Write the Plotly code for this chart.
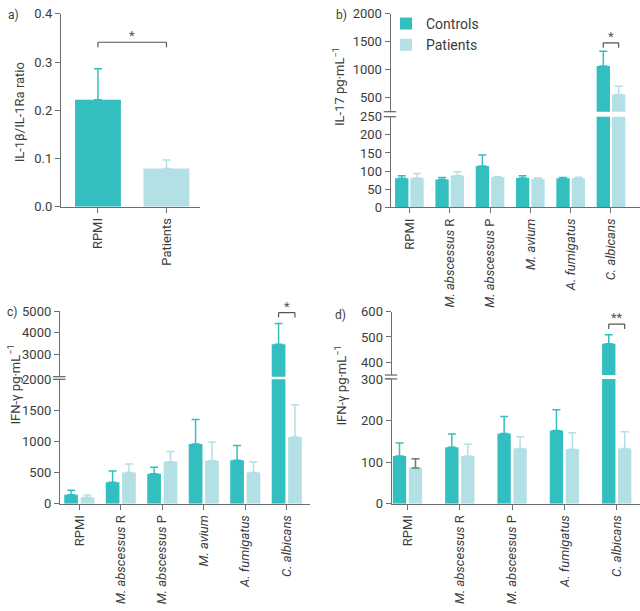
import plotly.graph_objects as go

# ---------------- data ----------------
a_labels = ["RPMI", "Patients"]
a_values = [0.222, 0.079]
a_err = [0.064, 0.018]

cats6 = ["RPMI", "<i>M. abscessus</i> R", "<i>M. abscessus</i> P", "<i>M. avium</i>",
         "<i>A. fumigatus</i>", "<i>C. albicans</i>"]
cats5 = ["RPMI", "<i>M. abscessus</i> R", "<i>M. abscessus</i> P",
         "<i>A. fumigatus</i>", "<i>C. albicans</i>"]

b_controls = [80, 77, 114, 81, 80, 1066]
b_controls_err = [7, 5, 30, 6, 2, 262]
b_patients = [81, 88, 83, 78, 80, 558]
b_patients_err = [12, 10, 1, 3, 3, 145]

c_controls = [145, 348, 483, 961, 701, 3486]
c_controls_err = [73, 177, 104, 395, 234, 950]
c_patients = [104, 504, 675, 691, 504, 1075]
c_patients_err = [36, 135, 167, 301, 166, 515]

d_controls = [115, 136, 169, 176, 473]
d_controls_err = [31, 32, 41, 50, 36]
d_patients = [86, 115, 133, 131, 133]
d_patients_err = [22, 28, 28, 40, 40]

# ---------------- style ----------------
C_CTRL = "#33bec0"
C_PAT = "#b3e0e4"
AX = "#6e6e6e"
TXT = "#3c3c3c"
FONT = "Roboto"
W, H = 640, 611


def px(x):
    return min(max(x / W, 0), 1)


def py(y):
    return min(max(1 - y / H, 0), 1)


fig = go.Figure()


def err(arr, color):
    return dict(type="data", array=arr, arrayminus=[0] * len(arr), symmetric=False,
                color=color, thickness=1.5, width=4)


# panel a
for i, col in enumerate([C_CTRL, C_PAT]):
    fig.add_trace(go.Bar(x=[a_labels[i]], y=[a_values[i]], marker=dict(color=col, line_width=0),
                         width=0.67, offset=-0.335, error_y=err([a_err[i]], col),
                         xaxis="x", yaxis="y", showlegend=False))


def add_broken(xa, ylo, yup, cats, ctrl, ctrl_err, pat, pat_err, w, g, legend):
    for ya in (ylo, yup):
        fig.add_trace(go.Bar(x=cats, y=ctrl, name="Controls", marker=dict(color=C_CTRL, line_width=0),
                             width=w, offset=-g / 2 - w, error_y=err(ctrl_err, C_CTRL),
                             xaxis=xa, yaxis=ya, showlegend=legend and ya == ylo))
        fig.add_trace(go.Bar(x=cats, y=pat, name="Patients", marker=dict(color=C_PAT, line_width=0),
                             width=w, offset=g / 2, error_y=err(pat_err, C_PAT),
                             xaxis=xa, yaxis=ya, showlegend=legend and ya == ylo))


add_broken("x2", "y2", "y3", cats6, b_controls, b_controls_err, b_patients, b_patients_err, 0.33, 0.05, True)
add_broken("x3", "y4", "y5", cats6, c_controls, c_controls_err, c_patients, c_patients_err, 0.33, 0.065, False)
add_broken("x4", "y6", "y7", cats5, d_controls, d_controls_err, d_patients, d_patients_err, 0.255, 0.05, False)

# grey error bar on RPMI patients (panel d)
fig.add_trace(go.Bar(x=cats5[:1], y=d_patients[:1], marker=dict(color="rgba(0,0,0,0)", line_width=0),
                     width=0.255, offset=0.025, error_y=err(d_patients_err[:1], "#7a7a7a"),
                     xaxis="x4", yaxis="y6", showlegend=False, hoverinfo="skip"))

base = dict(showline=True, linecolor=AX, linewidth=1.3, ticks="outside", ticklen=5, tickwidth=1.3,
            tickcolor=AX, tickfont=dict(size=13, color=TXT, family=FONT), showgrid=False, zeroline=False)
xbase = dict(base, type="category", tickangle=-90)

layout = dict(
    width=W, height=H, margin=dict(l=0, r=0, t=0, b=0), autosize=False,
    paper_bgcolor="white", plot_bgcolor="white",
    font=dict(family=FONT, color=TXT),
    showlegend=True,
    legend=dict(x=px(386), y=py(1), xanchor="left", yanchor="top", font=dict(size=14, color=TXT),
                bgcolor="rgba(0,0,0,0)", tracegroupgap=0),
    # panel a
    xaxis=dict(xbase, domain=[px(61), px(200)], range=[-0.54, 1.49], anchor="y"),
    yaxis=dict(base, domain=[py(204.7), py(7)], range=[0, 0.4], tickvals=[0, 0.1, 0.2, 0.3, 0.4],
               tickformat=".1f", anchor="x"),
    # panel b
    xaxis2=dict(xbase, domain=[px(390.7), 1], range=[-0.464, 5.72], anchor="y2"),
    yaxis2=dict(base, domain=[py(205.3), py(112.5)], range=[0, 250], tickvals=[0, 50, 100, 150, 200, 250],
                anchor="x2"),
    yaxis3=dict(base, domain=[py(107.3), py(6.7)], range=[250, 2000], tickvals=[500, 1000, 1500, 2000],
                anchor="x2"),
    # panel c
    xaxis3=dict(xbase, domain=[px(60), px(310)], range=[-0.465, 5.56], anchor="y4"),
    yaxis4=dict(base, domain=[py(509.3), py(381.7)], range=[0, 2000], tickvals=[0, 500, 1000, 1500, 2000],
                anchor="x3"),
    yaxis5=dict(base, domain=[py(379), py(311.7)], range=[2000, 5000], tickvals=[3000, 4000, 5000],
                anchor="x3"),
    # panel d
    xaxis4=dict(xbase, domain=[px(391.7), 1], range=[-0.302, 4.445], anchor="y6"),
    yaxis6=dict(base, domain=[py(509.3), py(381.3)], range=[0, 300], tickvals=[0, 100, 200, 300],
                anchor="x4"),
    yaxis7=dict(base, domain=[py(377.3), py(312.3)], range=[350, 600], tickvals=[400, 500, 600],
                anchor="x4"),
)
fig.update_layout(**layout)

shapes = []
annotations = []

# axis-break marks
for xa, ylo, yup in (("x2", "y2", "y3"), ("x3", "y4", "y5"), ("x4", "y6", "y7")):
    for yref, yv in ((yup + " domain", 0), (ylo + " domain", 1)):
        shapes.append(dict(type="line", xref=xa + " domain", yref=yref, x0=-0.028, x1=0.022,
                           y0=yv, y1=yv, line=dict(color=AX, width=1.3)))


def bracket(xa, ya, x0, x1, yb, text):
    shapes.append(dict(type="line", xref=xa, yref=ya, x0=x0, x1=x1, y0=yb, y1=yb,
                       line=dict(color="#555555", width=1.2)))
    for xx in (x0, x1):
        shapes.append(dict(type="line", xref=xa, yref=ya, x0=xx, x1=xx, ysizemode="pixel",
                           yanchor=yb, y0=0, y1=-5, line=dict(color="#555555", width=1.2)))
    annotations.append(dict(x=(x0 + x1) / 2, y=yb, xref=xa, yref=ya, text=text, showarrow=False,
                            yanchor="bottom", yshift=-3, font=dict(size=13, color="#555555")))


bracket("x", "y", 0, 1, 0.341, "*")
bracket("x2", "y3", 5 - 0.19, 5 + 0.19, 1478, "*")
bracket("x3", "y5", 5 - 0.1975, 5 + 0.1975, 4930, "*")
bracket("x4", "y7", 4 - 0.1525, 4 + 0.1525, 551, "**")

# axis titles
for text, x, y in (("IL-1β/IL-1Ra ratio", 19, 108),
                   ("IL-17 pg·mL<sup>−1</sup>", 339, 82),
                   ("IFN-γ pg·mL<sup>−1</sup>", 15, 387),
                   ("IFN-γ pg·mL<sup>−1</sup>", 341, 388)):
    annotations.append(dict(x=px(x), y=py(y), xref="paper", yref="paper", text=text, textangle=-90,
                            showarrow=False, xanchor="center", yanchor="middle",
                            font=dict(size=13, color=TXT, family=FONT)))

# panel labels
for text, x, y in (("a)", 13, 8), ("b)", 341, 8), ("c)", 12, 313), ("d)", 340, 316)):
    annotations.append(dict(x=px(x), y=py(y), xref="paper", yref="paper", text=text, showarrow=False,
                            xanchor="center", yanchor="middle", font=dict(size=12, color=TXT, family=FONT)))

fig.update_layout(shapes=shapes, annotations=annotations)
fig.write_html("out.html", config={"displayModeBar": False},
               post_script="document.body.style.margin='0px';document.body.style.overflow='hidden';")
